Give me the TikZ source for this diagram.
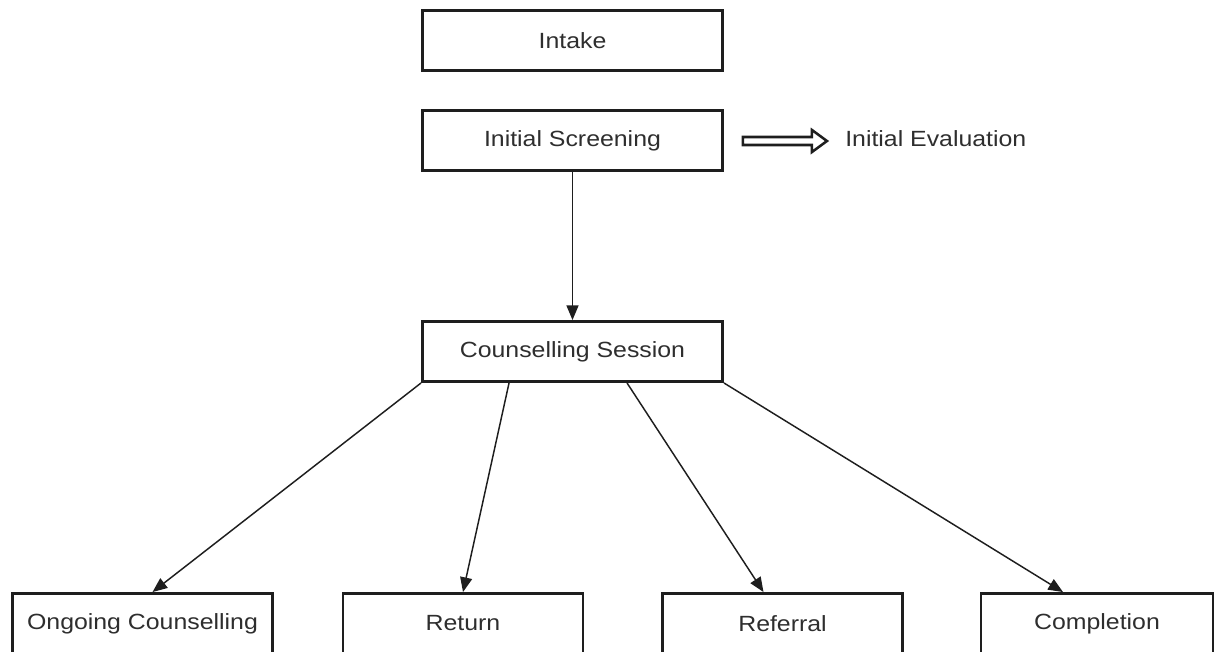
\documentclass[tikz,border=0pt]{standalone}
\usepackage{fontspec}
\setmainfont{Liberation Sans}[FakeStretch=1.13]
\usetikzlibrary{arrows.meta,calc}
\definecolor{txt}{HTML}{2E2E2E}
\definecolor{ln}{HTML}{1E1E1E}
\begin{document}
\begin{tikzpicture}[x=0.75pt,y=-0.75pt,
  box/.style={draw=ln,line width=2.2pt,minimum width=300*0.75pt,minimum height=60*0.75pt,inner sep=0pt,text=txt,font=\fontsize{16.5}{19}\selectfont},
  conn/.style={draw=ln,line width=1.1pt,-{Triangle[length=11pt,width=9pt]}},
  lbl/.style={text=txt,font=\fontsize{16.5}{19}\selectfont,inner sep=0pt},
  hollow/.style={draw=ln,line width=1.9pt,fill=white,line join=miter}]
\useasboundingbox (0,0) rectangle (1216,651);
\node[box] (intake) at (572.5,40.5) {Intake};
\node[box] (scr) at (572.5,140.5) {Initial Screening};
\node[box] (cs) at (572.5,351.5) {Counselling Session};
\node[box,minimum width=260*0.75pt] (ong) at (142.5,623.5) {Ongoing Counselling};
\node[box,minimum width=240*0.75pt] (ret) at (463,623.5) {Return};
\node[box,minimum width=240*0.75pt] (ref) at (782.5,623.5) {Referral};
\node[box,minimum width=232*0.75pt] (comp) at (1097,623.5) {Completion};
\node[lbl,anchor=west] (eval) at (845,139) {Initial Evaluation};
\draw[conn] (scr.south) -- (cs.north);
\draw[conn] (cs.south west) -- ($(ong.north)+(10,0)$);
\draw[conn] ($(cs.south west)+(88,0)$) -- (ret.north);
\draw[conn] ($(cs.south west)+(206,0)$) -- ($(ref.north)+(-19,0)$);
\draw[conn] (cs.south east) -- ($(comp.north)+(-34,0)$);
\coordinate (ha) at ($(scr.east)+(19,0.5)$);
\draw[hollow] (ha) ++(0,-4) -- ++(69,0) -- ++(0,-7) -- ++(15,11) -- ++(-15,11) -- ++(0,-7) -- ++(-69,0) -- cycle;
\end{tikzpicture}
\end{document}
